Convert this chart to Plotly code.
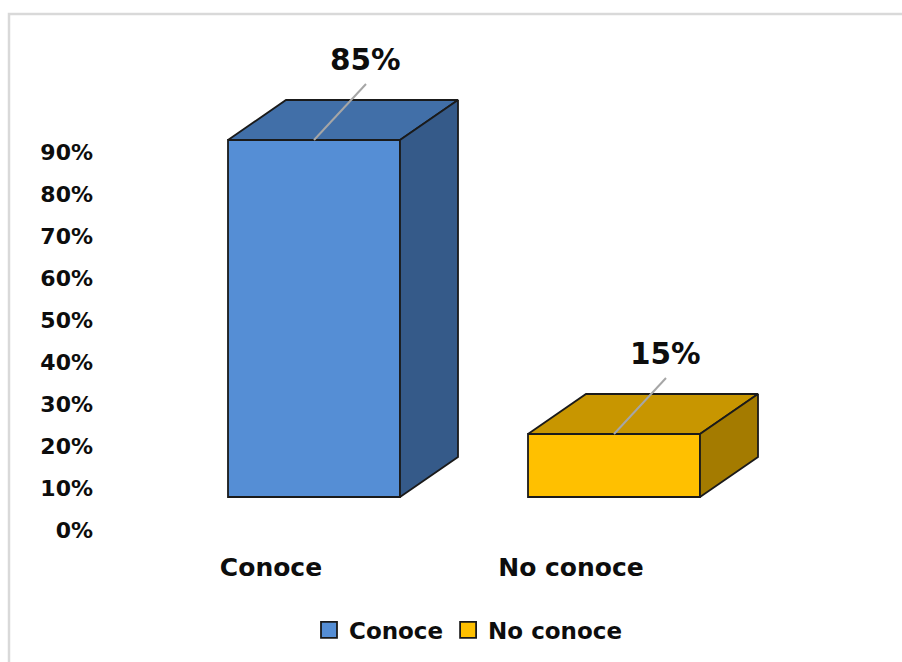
import plotly.graph_objects as go

# Data
categories = ["Conoce", "No conoce"]
values = [85, 15]
tick_values = [0, 10, 20, 30, 40, 50, 60, 70, 80, 90]
tick_labels = ["0%", "10%", "20%", "30%", "40%", "50%", "60%", "70%", "80%", "90%"]

front_colors = ["#558ED5", "#FFC000"]
top_colors = ["#416FA8", "#C89600"]
side_colors = ["#355A89", "#A47B00"]
edge = "#1A1A1A"

FONT = "DejaVu Sans"

# Layout geometry (pixels)
W, H = 902, 662
ML, MR, MT, MB = 98, 2, 14, 132
plot_w = W - ML - MR
plot_h = H - MT - MB
px_x = 300.0          # pixels per category step
px_y = 4.2            # pixels per percentage point
cat0_px = 271         # first category label centre (absolute px)
bar_shift_px = 43     # front faces sit right of the category labels
floor_px = 33         # front faces stand above the zero line

x_lo = (ML - cat0_px) / px_x
x_hi = x_lo + plot_w / px_x
y_hi = plot_h / px_y
shift = bar_shift_px / px_x
floor = floor_px / px_y

bar_w = 172 / px_x
DX = 58 / px_x        # 3-D depth, horizontal
DY = 40 / px_y        # 3-D depth, vertical

fig = go.Figure()

# Front faces
for i, (cat, v) in enumerate(zip(categories, values)):
    fig.add_trace(go.Bar(
        x=[i], y=[v], width=bar_w, name=cat, showlegend=False,
        marker=dict(color=front_colors[i], line=dict(color=edge, width=1.8)),
        xaxis="x2", yaxis="y2", hoverinfo="skip",
    ))

# Top and side faces
for i, v in enumerate(values):
    L, R = i - bar_w / 2, i + bar_w / 2
    fig.add_trace(go.Scatter(
        x=[L, R, R + DX, L + DX, L], y=[v, v, v + DY, v + DY, v],
        fill="toself", fillcolor=top_colors[i], mode="lines",
        line=dict(color=edge, width=1.8), showlegend=False,
        xaxis="x2", yaxis="y2", hoverinfo="skip",
    ))
    fig.add_trace(go.Scatter(
        x=[R, R + DX, R + DX, R, R], y=[0, DY, v + DY, v, 0],
        fill="toself", fillcolor=side_colors[i], mode="lines",
        line=dict(color=edge, width=1.8), showlegend=False,
        xaxis="x2", yaxis="y2", hoverinfo="skip",
    ))

# Leader lines and value labels
lead_dx, lead_dy = 52 / px_x, 56 / px_y
lbl_dx, lbl_dy = 51 / px_x, 80 / px_y
for i, v in enumerate(values):
    fig.add_trace(go.Scatter(
        x=[i, i + lead_dx], y=[v, v + lead_dy], mode="lines",
        line=dict(color="#A6A6A6", width=2), showlegend=False,
        xaxis="x2", yaxis="y2", hoverinfo="skip",
    ))
    fig.add_annotation(
        x=i + lbl_dx, y=v + lbl_dy, xref="x2", yref="y2",
        text=f"{v}%", showarrow=False,
        font=dict(family=FONT, size=29.5, color="#0D0D0D", weight=700),
    )

# Legend entries
for i, cat in enumerate(categories):
    fig.add_trace(go.Scatter(
        x=[None], y=[None], mode="markers", name=cat,
        marker=dict(symbol="square", size=16, color=front_colors[i],
                    line=dict(color=edge, width=1.8)),
        xaxis="x", yaxis="y",
    ))

fig.update_layout(
    width=W, height=H,
    margin=dict(l=ML, r=MR, t=MT, b=MB),
    paper_bgcolor="white", plot_bgcolor="white",
    font=dict(family=FONT, color="#0D0D0D", weight=700),
    xaxis=dict(range=[x_lo, x_hi], tickvals=[0, 1], ticktext=categories,
               showgrid=False, zeroline=False, showline=False, ticks="",
               tickfont=dict(size=25), ticklabelstandoff=20, fixedrange=True),
    yaxis=dict(range=[0, y_hi], tickvals=tick_values, ticktext=tick_labels,
               showgrid=False, zeroline=False, showline=False, ticks="",
               tickfont=dict(size=22), ticklabelstandoff=4, fixedrange=True),
    xaxis2=dict(range=[x_lo - shift, x_hi - shift], overlaying="x",
                anchor="y2", visible=False, fixedrange=True),
    yaxis2=dict(range=[-floor, y_hi - floor], overlaying="y",
                anchor="x2", visible=False, fixedrange=True),
    legend=dict(orientation="h", x=(468 - ML) / plot_w, xanchor="center",
                y=(MT + plot_h - 630) / plot_h, yanchor="middle",
                font=dict(size=23), itemclick=False),
    showlegend=True,
    shapes=[dict(type="rect", xref="paper", yref="paper",
                 x0=(9 - ML) / plot_w, x1=(910 - ML) / plot_w,
                 y0=(MT + plot_h - 670) / plot_h, y1=(MT + plot_h - 14) / plot_h,
                 line=dict(color="#D9D9D9", width=2.5), layer="below")],
)

fig.write_html("out.html")
